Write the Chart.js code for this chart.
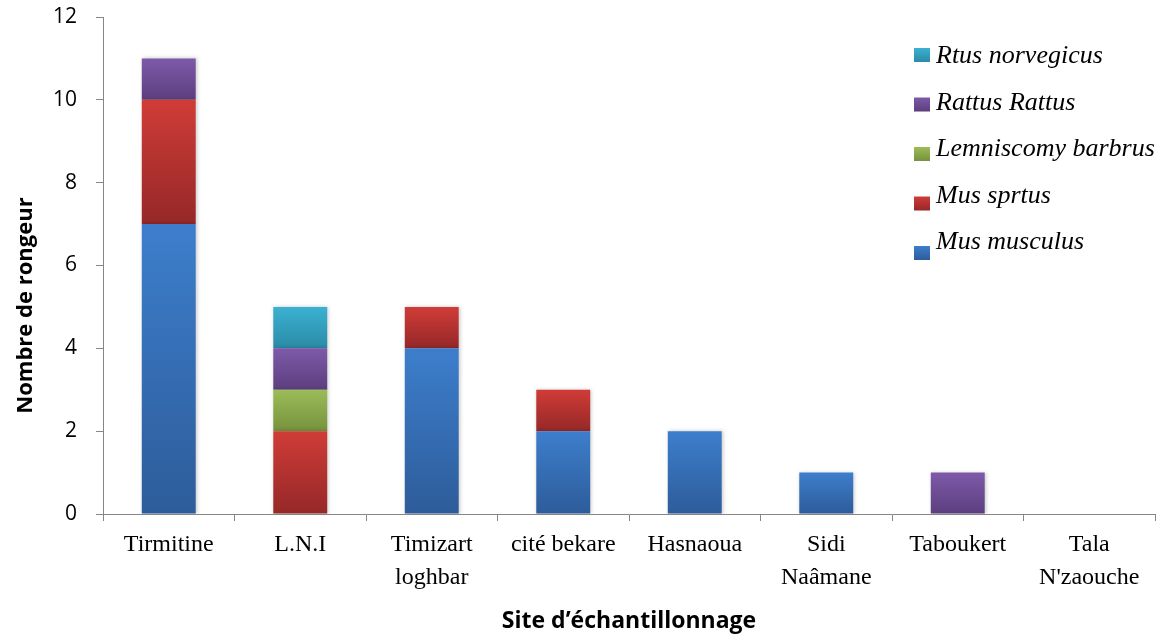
<!DOCTYPE html>
<html><head><meta charset="utf-8">
<script src="https://cdn.jsdelivr.net/npm/chart.js@4"></script>
<style>html,body{margin:0;padding:0;background:#fff}#wrap{width:1168px;height:638px;position:relative}</style>
</head><body><div id="wrap"><canvas id="c" width="1168" height="638"></canvas></div>
<script>
const categories = [['Tirmitine'],['L.N.I'],['Timizart','loghbar'],['cité bekare'],['Hasnaoua'],['Sidi','Naâmane'],['Taboukert'],['Tala',"N'zaouche"]];
const speciesNames = ['Mus musculus','Mus sprtus','Lemniscomy barbrus','Rattus Rattus','Rtus norvegicus'];
const musMusculus = [7,0,4,2,2,1,0,0];
const musSprtus = [3,2,1,1,0,0,0,0];
const lemniscomyBarbrus = [0,1,0,0,0,0,0,0];
const rattusRattus = [1,1,0,0,0,0,1,0];
const rtusNorvegicus = [0,1,0,0,0,0,0,0];
const yMin = 0, yMax = 12, yStep = 2;

const seriesValues = [musMusculus, musSprtus, lemniscomyBarbrus, rattusRattus, rtusNorvegicus];
const palette = [
  ['#3D7ECC','#2D5C9A'],
  ['#D03C37','#952828'],
  ['#9CBC59','#76923C'],
  ['#7D5AA9','#5C3E7E'],
  ['#3BB1D1','#2A8BA7']
];

function segGradient(ctx){
  const pal = palette[ctx.datasetIndex];
  if (ctx.type !== 'data') return pal[0];
  const chart = ctx.chart, ys = chart.scales && chart.scales.y;
  if (!ys || !chart.chartArea) return pal[0];
  let start = 0;
  for (let j = 0; j < ctx.datasetIndex; j++) start += chart.data.datasets[j].data[ctx.dataIndex];
  const end = start + chart.data.datasets[ctx.datasetIndex].data[ctx.dataIndex];
  const top = ys.getPixelForValue(end), bot = ys.getPixelForValue(start);
  if (!isFinite(top) || !isFinite(bot) || top === bot) return pal[0];
  const g = chart.ctx.createLinearGradient(0, top, 0, bot);
  g.addColorStop(0, pal[0]);
  g.addColorStop(1, pal[1]);
  return g;
}

const shadowPlugin = {
  id: 'shadow',
  beforeDatasetsDraw(chart){ const c = chart.ctx; c.save(); c.shadowColor='rgba(0,0,0,0.22)'; c.shadowBlur=4; c.shadowOffsetX=1; c.shadowOffsetY=0; },
  afterDatasetsDraw(chart){ chart.ctx.restore(); }
};

const legendPlugin = {
  id: 'customLegend',
  afterDraw(chart){
    const c = chart.ctx;
    c.save();
    const order = [4,3,2,1,0];
    const boxX = 914, textX = 936;
    order.forEach((di, k) => {
      const ds = chart.data.datasets[di];
      const by = 48 + k*49.5;
      const g = c.createLinearGradient(0, by, 0, by+14);
      g.addColorStop(0, palette[di][0]); g.addColorStop(1, palette[di][1]);
      c.fillStyle = g;
      c.fillRect(boxX, by, 16, 14);
      c.fillStyle = '#000';
      c.font = 'italic 26px "Liberation Serif"';
      c.textBaseline = 'alphabetic';
      c.textAlign = 'left';
      c.fillText(ds.label, textX, 63 + k*46.5);
    });
    c.restore();
  }
};

new Chart(document.getElementById('c'), {
  type: 'bar',
  data: {
    labels: categories,
    datasets: seriesValues.map((v, i) => ({
      label: speciesNames[i],
      data: v,
      backgroundColor: segGradient,
      borderWidth: 0,
      categoryPercentage: 1,
      barPercentage: 0.41
    }))
  },
  options: {
    responsive: false,
    animation: false,
    layout: { padding: { left: 0, top: 17, right: 13, bottom: 0 } },
    plugins: { legend: { display: false }, tooltip: { enabled: false } },
    scales: {
      x: {
        stacked: true,
        afterFit: (s) => { s.height = 124; },
        grid: { offset: true, drawOnChartArea: false, tickLength: 7, color: '#868686' },
        border: { color: '#868686', width: 1 },
        ticks: { font: { family: 'Liberation Serif', size: 24, lineHeight: 1.375 }, color: '#000', padding: 7, maxRotation: 0, autoSkip: false },
        title: { display: true, text: 'Site d’échantillonnage', font: { family: 'Open Sans', weight: 'bold', size: 23 }, color: '#000', padding: { top: 0, bottom: 3 } }
      },
      y: {
        stacked: true,
        min: yMin, max: yMax,
        afterFit: (s) => { s.width = 103; s.paddingTop = 0; s.paddingBottom = 0; },
        grid: { drawOnChartArea: false, tickLength: 7, color: '#868686' },
        border: { color: '#868686', width: 1 },
        ticks: { stepSize: yStep, font: { family: 'Open Sans', size: 21 }, color: '#000', padding: 19 },
        title: { display: true, text: 'Nombre de rongeur' + '\u00A0'.repeat(14), font: { family: 'Open Sans', weight: 'bold', size: 22 }, color: '#000', padding: { top: 13, bottom: 0 } }
      }
    }
  },
  plugins: [shadowPlugin, legendPlugin]
});
</script></body></html>
